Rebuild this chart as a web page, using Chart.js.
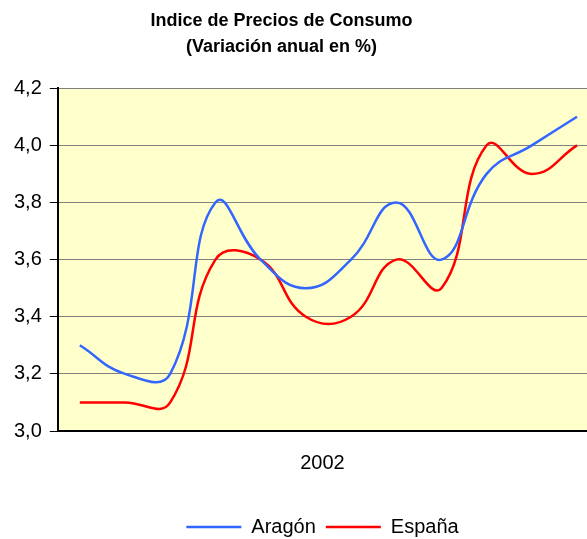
<!DOCTYPE html>
<html>
<head>
<meta charset="utf-8">
<script src="https://cdn.jsdelivr.net/npm/chart.js@4.4.0/dist/chart.umd.min.js"></script>
<style>
  html, body { margin: 0; padding: 0; background: #fff; overflow: hidden; }
  #wrap { position: relative; width: 587px; height: 539px; }
</style>
</head>
<body>
<div id="wrap"><canvas id="c" width="587" height="539"></canvas></div>
<script>
const months = ["Ene", "Feb", "Mar", "Abr", "May", "Jun", "Jul", "Ago", "Sep", "Oct", "Nov", "Dic"];
const aragon = [3.3, 3.2, 3.2, 3.8, 3.6, 3.5, 3.6, 3.8, 3.6, 3.9, 4.0, 4.1];
const espana = [3.1, 3.1, 3.1, 3.6, 3.6, 3.4, 3.4, 3.6, 3.5, 4.0, 3.9, 4.0];
const yearLabel = "2002";
const titleLines = ["Indice de Precios de Consumo", "(Variación anual en %)"];

const FONT = "'Liberation Sans', Arial, sans-serif";

const plotBg = {
  id: 'plotBg',
  beforeDraw(chart) {
    const { ctx, chartArea: a } = chart;
    ctx.save();
    ctx.fillStyle = '#FFFFCC';
    ctx.fillRect(a.left, a.top, a.right - a.left, a.bottom - a.top);
    ctx.restore();
  }
};

// small horizontal offsets of title and legend blocks, as in the original
const shiftBlocks = {
  id: 'shiftBlocks',
  afterLayout(chart) {
    if (chart.titleBlock) { chart.titleBlock.left -= 15; chart.titleBlock.right -= 15; }
    if (chart.legend) { chart.legend.left += 26; chart.legend.right += 26; }
  }
};

const toXY = arr => arr.map((v, i) => ({ x: i, y: v }));

new Chart(document.getElementById('c'), {
  type: 'line',
  data: {
    datasets: [
      { label: 'Aragón', data: toXY(aragon), borderColor: '#3366FF', backgroundColor: '#3366FF',
        borderWidth: 2.5, pointRadius: 0, tension: 0.45, fill: false },
      { label: 'España', data: toXY(espana), borderColor: '#FF0000', backgroundColor: '#FF0000',
        borderWidth: 2.5, pointRadius: 0, tension: 0.45, fill: false }
    ]
  },
  options: {
    responsive: false,
    animation: false,
    layout: { padding: { left: 6, right: 0, top: 0, bottom: -8 } },
    plugins: {
      title: {
        display: true, text: titleLines, color: '#000',
        font: { family: FONT, size: 18, weight: 'bold', lineHeight: 1.45 },
        padding: { top: 8, bottom: 28 }
      },
      legend: {
        display: true, position: 'bottom',
        labels: {
          color: '#000', font: { family: FONT, size: 20 },
          boxWidth: 55, boxHeight: 0, padding: 10
        }
      },
      tooltip: { enabled: false }
    },
    scales: {
      x: {
        type: 'linear',
        min: -0.487, max: 11.221,
        ticks: { display: false },
        grid: { display: false, drawTicks: false },
        border: { display: true, color: '#000', width: 2 },
        title: { display: true, text: yearLabel, color: '#000',
                 font: { family: FONT, size: 20 }, padding: { top: 20, bottom: 32 } }
      },
      y: {
        min: 3.0, max: 4.2,
        ticks: {
          stepSize: 0.2, color: '#000', padding: 8,
          font: { family: FONT, size: 20 },
          callback: v => v.toFixed(1).replace('.', ',')
        },
        grid: { color: '#808080', lineWidth: 1, tickLength: 8, tickColor: '#000' },
        border: { display: true, color: '#000', width: 2 }
      }
    }
  },
  plugins: [plotBg, shiftBlocks]
});
</script>
</body>
</html>
